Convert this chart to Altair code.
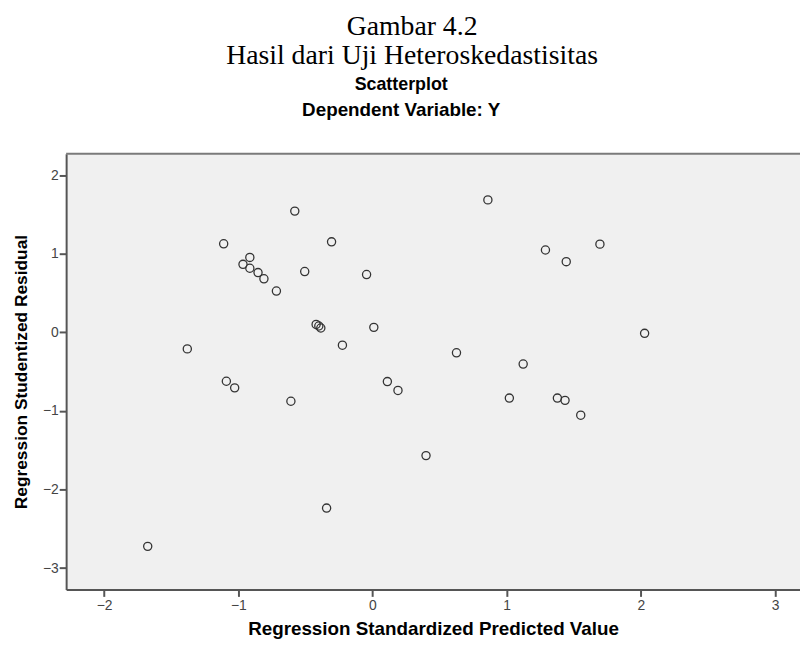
import altair as alt
import pandas as pd

# Regression standardized predicted value (x) and studentized residual (y)
pred = [-1.109, -0.914, -0.965, -0.914, -0.853, -0.809, -0.716, -1.380, -1.089, -1.027,
        -0.608, -0.579, -1.675, -0.305, -0.505, -0.044, -0.420, -0.400, -0.385, 0.010,
        -0.224, 0.626, 1.123, 0.111, 0.190, 1.020, 0.860, 1.289, 0.399, -0.342,
        1.444, 1.695, 2.028, 1.378, 1.435, 1.552]
resid = [1.126, 0.953, 0.865, 0.815, 0.760, 0.681, 0.525, -0.211, -0.623, -0.707,
         -0.877, 1.542, -2.724, 1.151, 0.773, 0.735, 0.100, 0.080, 0.055, 0.063,
         -0.164, -0.261, -0.404, -0.627, -0.740, -0.837, 1.685, 1.047, -1.569, -2.237,
         0.899, 1.122, -0.013, -0.837, -0.866, -1.055]

x_ticks = [-2, -1, 0, 1, 2, 3]
y_ticks = [-3, -2, -1, 0, 1, 2]

title_lines = ["Gambar 4.2", "Hasil dari Uji Heteroskedastisitas"]
chart_titles = ["Scatterplot", "Dependent Variable: Y"]
x_title = "Regression Standardized Predicted Value"
y_title = "Regression Studentized Residual"

df = pd.DataFrame({"pred": pred, "resid": resid})

W, H = 741, 440
TOP = 152
LEFT = 66.7

xscale = alt.Scale(domain=[-2.283, 3.186], nice=False, zero=False)
yscale = alt.Scale(domain=[-3.272, 2.273], nice=False, zero=False)

points = alt.Chart(df).mark_point(
    shape="circle", filled=False, size=68, color="#333333", strokeWidth=1.3, opacity=1
).encode(
    x=alt.X("pred:Q", scale=xscale,
            axis=alt.Axis(values=x_ticks, title=x_title, tickSize=7, labelPadding=2,
                          titlePadding=7, titleFontSize=19, format="d")),
    y=alt.Y("resid:Q", scale=yscale,
            axis=alt.Axis(values=y_ticks, title=y_title, tickSize=7, labelPadding=1,
                          titlePadding=12, titleFontSize=17.5, format="d")),
)

top_border = alt.Chart(pd.DataFrame({"a": [0]})).mark_rule(
    color="#7a7a7a", strokeWidth=2
).encode(x=alt.value(0), x2=alt.value(W), y=alt.value(0))


def text_layer(txt, page_x, page_y, font, size, weight):
    return alt.Chart(pd.DataFrame({"t": [txt]})).mark_text(
        font=font, fontSize=size, fontWeight=weight, color="#000000",
        align="center", baseline="alphabetic"
    ).encode(text="t:N", x=alt.value(page_x - LEFT), y=alt.value(page_y - TOP))


layers = [
    top_border,
    points,
    text_layer(title_lines[0], 416, 32, "Liberation Serif", 28, "normal"),
    text_layer(title_lines[1], 416, 61, "Liberation Serif", 28, "normal"),
    text_layer(chart_titles[0], 405, 88, "Liberation Sans", 18, "bold"),
    text_layer(chart_titles[1], 405, 114, "Liberation Sans", 19, "bold"),
]

chart = alt.layer(*layers).properties(
    width=W, height=H,
    autosize="none",
    padding={"left": LEFT - 8, "top": TOP - 8, "right": 0, "bottom": 52},
    background="white",
).configure_view(
    fill="#f0f0f0", stroke="transparent"
).configure_axis(
    grid=False,
    domainColor="#555555", domainWidth=2,
    tickColor="#555555", tickWidth=2,
    labelFont="Liberation Sans", labelFontSize=14, labelColor="#444444",
    titleFont="Liberation Sans", titleFontWeight="bold",
    titleColor="#000000",
)

chart.save("out.html", embed_options={"renderer": "svg", "actions": False})
